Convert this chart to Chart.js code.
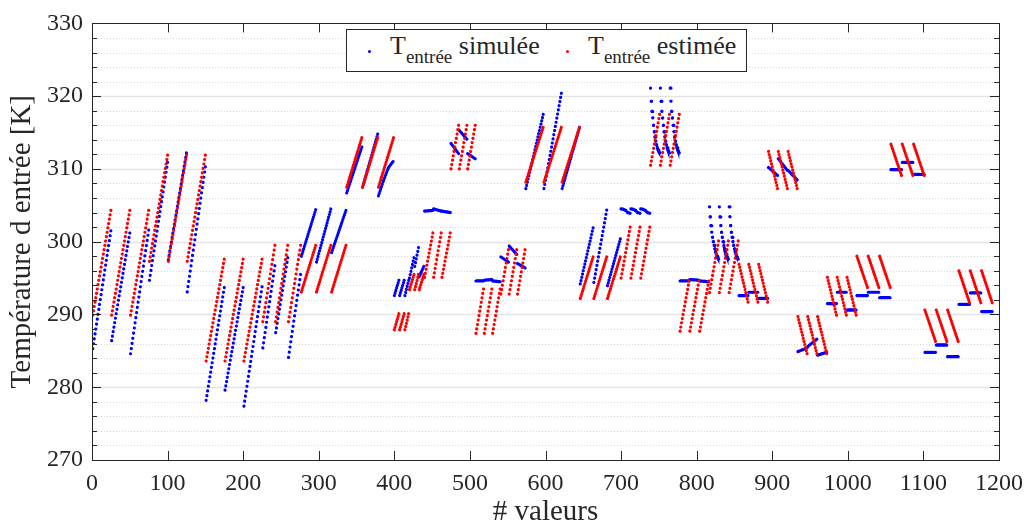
<!DOCTYPE html>
<html>
<head>
<meta charset="utf-8">
<script src="https://cdn.jsdelivr.net/npm/chart.js@4.4.1/dist/chart.umd.min.js"></script>
<style>
  html, body { margin: 0; padding: 0; background: #fff; }
  #wrap { position: relative; width: 1032px; height: 530px; }
  #legend {
    position: absolute; left: 346px; top: 29px; width: 401px; height: 43px;
    box-sizing: border-box; border: 1px solid #262626; background: #fff;
    font-family: "Liberation Serif", serif; font-size: 26px; color: #262626;
  }
  #legend .dot { position: absolute; top: 20px; width: 3px; height: 3px; border-radius: 50%; }
  #legend .txt { position: absolute; top: 2px; line-height: 28px; white-space: nowrap; }
  #legend sub { font-size: 19px; vertical-align: baseline; position: relative; top: 9px; }
</style>
</head>
<body>
<div id="wrap">
  <canvas id="chart" width="1032" height="530"></canvas>
  <div id="legend">
    <span class="dot" style="left:21px;background:#0000ff"></span>
    <span class="txt" style="left:43px">T<sub>entrée</sub> simulée</span>
    <span class="dot" style="left:219px;background:#ff0000"></span>
    <span class="txt" style="left:241px">T<sub>entrée</sub> estimée</span>
  </div>
</div>
<script>
// sample index ranges of each run of points
const segStart = [1, 26, 51, 76, 101, 126, 151, 176, 201, 226, 243, 260, 277, 297, 317, 337, 358, 379,
  400, 407, 414, 420, 427, 433, 440, 452, 463, 475, 486, 497, 508, 519, 530, 541, 552, 563,
  574, 598, 622, 646, 664, 682, 700, 713, 726, 739, 752, 765, 778, 791, 804, 817, 830, 843,
  856, 869, 882, 895, 908, 921, 934, 947, 960, 973, 986, 999, 1012, 1027, 1042, 1057, 1072, 1087,
  1102, 1117, 1132, 1147, 1162, 1177];
const segEnd = [25, 50, 75, 100, 125, 150, 175, 200, 225, 242, 259, 276, 296, 316, 336, 357, 378, 399,
  406, 413, 419, 426, 432, 439, 451, 462, 474, 485, 496, 507, 518, 529, 540, 551, 562, 573,
  597, 621, 645, 663, 681, 699, 712, 725, 738, 751, 764, 777, 790, 803, 816, 829, 842, 855,
  868, 881, 894, 907, 920, 933, 946, 959, 972, 985, 998, 1011, 1026, 1041, 1056, 1071, 1086, 1101,
  1116, 1131, 1146, 1161, 1176, 1191];

// T entrée estimée [K] (values spread evenly over each run)
const estimee = [
  [289.9, 304.3], [289.9, 304.3], [289.9, 304.3],
  [297.3, 311.9], [297.3, 311.9], [297.3, 311.9],
  [283.6, 297.6], [283.6, 297.6], [283.6, 297.6],
  [289.0, 299.5], [289.0, 299.5], [289.0, 299.5],
  [293.1, 299.5], [293.1, 299.5], [293.1, 299.5],
  [307.5, 314.3], [307.5, 314.3], [307.5, 314.3],
  [287.9, 290.1], [287.9, 290.1], [287.9, 290.1],
  [293.4, 295.5], [293.4, 295.5], [293.4, 295.5],
  [295.1, 301.2], [295.1, 301.2], [295.1, 301.2],
  [310.0, 316.0], [310.0, 316.0], [310.0, 316.0],
  [287.4, 293.5], [287.4, 293.5], [287.4, 293.5],
  [292.8, 298.9], [292.8, 298.9], [292.8, 298.9],
  [308.2, 315.7], [308.2, 315.7], [308.2, 315.7],
  [292.2, 297.9], [292.2, 297.9], [292.2, 297.9],
  [295.0, 302.0], [295.0, 302.0], [295.0, 302.0],
  [310.5, 317.5], [310.5, 317.5], [310.5, 317.5],
  [287.7, 294.6], [287.7, 294.6], [287.7, 294.6],
  [293.0, 300.1], [293.0, 300.1], [293.0, 300.1],
  [296.9, 291.7], [296.9, 291.7], [296.9, 291.7],
  [312.4, 307.3], [312.4, 307.3], [312.4, 307.3],
  [289.7, 284.6], [289.7, 284.6], [289.7, 284.6],
  [295.1, 289.9], [295.1, 289.9], [295.1, 289.9],
  [298.0, 293.7], [298.0, 293.7], [298.0, 293.7],
  [313.4, 309.1], [313.4, 309.1], [313.4, 309.1],
  [290.6, 286.3], [290.6, 286.3], [290.6, 286.3],
  [296.0, 291.6], [296.0, 291.6], [296.0, 291.6]
];

// T entrée simulée [K]
const decayHigh = [321.1, 319.3, 317.9, 317.0, 316.0, 315.1, 314.4, 313.8, 313.3, 312.9, 312.6, 312.4, 312.2];
const decayLow = [304.8, 303.4, 302.2, 301.3, 300.6, 300.0, 299.5, 299.0, 298.6, 298.3, 298.0, 297.8, 297.6];
const wave = [304.5, 304.45, 304.3, 304.0, 303.9];
const simulee = [
  [285.3, 301.5], [286.4, 301.2], [284.6, 301.6],
  [294.7, 310.9], [297.5, 312.2], [293.1, 310.3],
  [278.2, 293.7], [279.6, 293.7], [277.4, 293.8],
  [285.4, 296.7], [287.5, 297.8], [284.1, 295.5],
  [298.0, 304.4], [297.2, 304.5], [298.5, 304.3],
  [306.7, 313.0], [307.5, 314.8], [306.3, 308.4, 310.2, 311.1],
  [292.6, 294.7], [292.6, 294.7], [292.6, 294.7],
  [295.0, 297.8], [296.6, 299.2], [295.2, 296.6],
  [304.2, 304.3], [304.5, 304.2], [304.2, 304.0],
  [313.5, 312.1], [315.3, 314.1], [312.1, 311.4],
  [294.6, 294.6], [294.7, 294.8], [294.6, 294.5],
  [297.9, 297.2], [299.4, 298.25], [297.0, 296.4],
  [307.3, 317.5], [307.3, 320.4], [307.3, 315.7],
  [294.2, 301.9], [294.4, 304.35], [293.95, 300.4],
  wave, wave, wave,
  decayHigh, decayHigh, decayHigh,
  [294.6, 294.6], [294.8, 294.7], [294.6, 294.5],
  decayLow, decayLow, decayLow,
  [292.6, 292.6], [293.05, 293.05], [292.2, 292.2],
  [310.2, 309.1], [311.4, 309.8], [309.8, 308.5],
  [284.9, 285.4], [285.6, 286.6], [284.4, 284.8],
  [291.5, 291.5], [293.05, 293.05], [290.6, 290.6],
  [292.6, 292.6], [293.05, 293.05], [292.3, 292.3],
  [309.9, 309.9], [310.9, 310.9], [309.25, 309.25],
  [284.8, 284.8], [285.8, 285.8], [284.2, 284.2],
  [291.4, 291.4], [292.95, 292.95], [290.4, 290.4]
];

const xTicks = { min: 0, max: 1200, step: 100 };
const yTicks = { min: 270, max: 330, step: 10, minor: 2 };

const ink = '#262626';
const serif = '"Liberation Serif", "DejaVu Serif", serif';

// one {x, y} list per series, runs separated by a null point
function toPoints(values) {
  const pts = [];
  values.forEach((ys, i) => {
    const x0 = segStart[i], x1 = segEnd[i];
    ys.forEach((y, k) => pts.push({ x: x0 + k * (x1 - x0) / (ys.length - 1), y }));
    pts.push({ x: x1 + 0.5, y: null });
  });
  return pts;
}

// one dot per sample along each piece of line
function dotDash(ctx) {
  const data = ctx.chart.data.datasets[ctx.datasetIndex].data;
  const n = data[ctx.p1DataIndex].x - data[ctx.p0DataIndex].x;
  const len = Math.hypot(ctx.p1.x - ctx.p0.x, ctx.p1.y - ctx.p0.y);
  const step = len / Math.max(n, 1e-6);
  return [0.01, Math.max(step - 0.012, 0.01)];
}

// MATLAB-like box: grid, inward ticks, frame
const frame = {
  id: 'frame',
  beforeDatasetsDraw(chart) {
    const { ctx, chartArea: a, scales: { y } } = chart;
    ctx.save();
    for (let v = yTicks.min + yTicks.minor; v < yTicks.max; v += yTicks.minor) {
      const py = Math.round(y.getPixelForValue(v)) + 0.5;
      ctx.beginPath();
      if (v % yTicks.step === 0) {
        ctx.setLineDash([]); ctx.strokeStyle = '#e4e4e4'; ctx.lineWidth = 1.5;
      } else {
        ctx.setLineDash([1, 2]); ctx.strokeStyle = '#d8d8d8'; ctx.lineWidth = 1;
      }
      ctx.moveTo(a.left, py); ctx.lineTo(a.right, py); ctx.stroke();
    }
    ctx.restore();
  },
  afterDatasetsDraw(chart) {
    const { ctx, chartArea: a, scales: { x, y } } = chart;
    ctx.save();
    ctx.strokeStyle = ink; ctx.lineWidth = 1; ctx.setLineDash([]);
    ctx.beginPath();
    for (let v = yTicks.min; v <= yTicks.max; v += yTicks.minor) {
      const py = Math.round(y.getPixelForValue(v)) + 0.5;
      const len = v % yTicks.step === 0 ? 9 : 5;
      ctx.moveTo(a.left, py); ctx.lineTo(a.left + len, py);
      ctx.moveTo(a.right, py); ctx.lineTo(a.right - len, py);
    }
    for (let v = xTicks.min; v <= xTicks.max; v += xTicks.step) {
      const px = Math.round(x.getPixelForValue(v)) + 0.5;
      ctx.moveTo(px, a.bottom); ctx.lineTo(px, a.bottom - 9);
      ctx.moveTo(px, a.top); ctx.lineTo(px, a.top + 9);
    }
    ctx.stroke();
    ctx.strokeRect(Math.round(a.left) + 0.5, Math.round(a.top) + 0.5,
      Math.round(a.right - a.left), Math.round(a.bottom - a.top));
    ctx.restore();
  }
};

const common = {
  showLine: true,
  pointRadius: 0,
  pointHoverRadius: 0,
  borderWidth: 3.2,
  borderCapStyle: 'round',
  spanGaps: false,
  segment: { borderDash: dotDash }
};

new Chart(document.getElementById('chart'), {
  type: 'scatter',
  data: {
    datasets: [
      { ...common, label: 'T entrée simulée', data: toPoints(simulee), borderColor: '#0000ff', backgroundColor: '#0000ff', order: 1 },
      { ...common, label: 'T entrée estimée', data: toPoints(estimee), borderColor: '#ff0000', backgroundColor: '#ff0000', order: 0 }
    ]
  },
  options: {
    responsive: false,
    devicePixelRatio: 1,
    animation: false,
    layout: { padding: { top: 17, right: 32, left: 0, bottom: 0 } },
    plugins: { legend: { display: false }, tooltip: { enabled: false } },
    scales: {
      x: {
        type: 'linear', min: xTicks.min, max: xTicks.max,
        ticks: { stepSize: xTicks.step, color: ink, padding: 9, maxRotation: 0,
          callback: v => String(v), font: { family: serif, size: 24 } },
        grid: { display: false, drawTicks: false },
        border: { display: false },
        title: { display: true, text: '# valeurs', color: ink, padding: 0,
          font: { family: serif, size: 29 } },
        afterFit: s => { s.height = 70; }
      },
      y: {
        min: yTicks.min, max: yTicks.max,
        ticks: { stepSize: yTicks.step, color: ink, padding: 9,
          callback: v => String(v), font: { family: serif, size: 24 } },
        grid: { display: false, drawTicks: false },
        border: { display: false },
        title: { display: true, text: 'Température d entrée [K]', color: ink,
          padding: { top: 5, bottom: 0 }, font: { family: serif, size: 29 } },
        afterFit: s => { s.width = 92; }
      }
    }
  },
  plugins: [frame]
});
</script>
</body>
</html>
